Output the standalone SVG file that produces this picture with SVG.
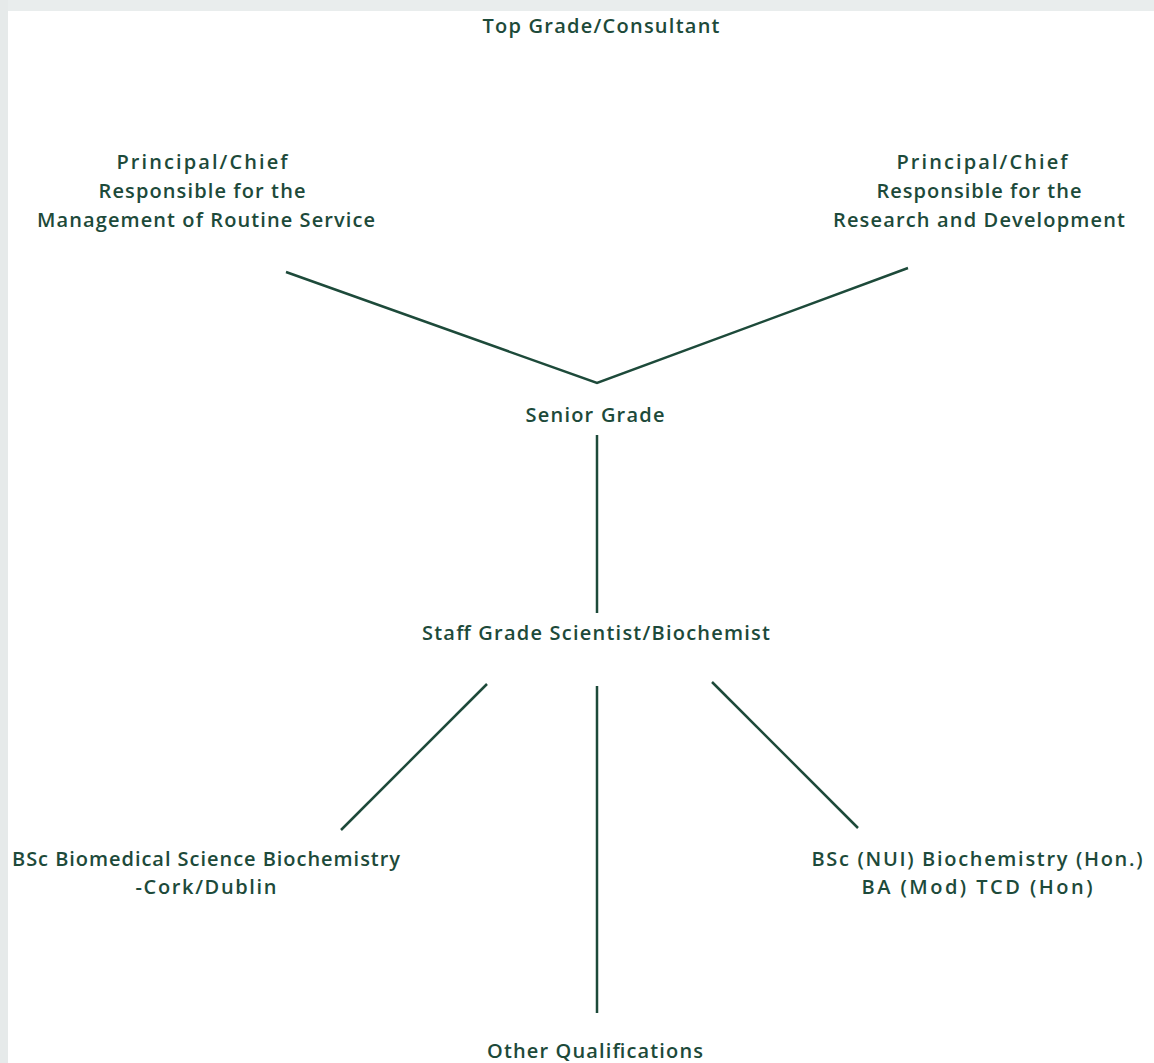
<svg xmlns="http://www.w3.org/2000/svg" width="1154" height="1063" viewBox="0 0 1154 1063">
<style>
.t{font-family:"Open Sans","Noto Sans","Liberation Sans",sans-serif;font-size:20px;font-weight:600;fill:#1d4a3a;text-anchor:middle}
.c{stroke:#1d4a3a;stroke-width:2.5;fill:none;stroke-linecap:butt}
</style>
<rect width="1154" height="1063" fill="#ffffff"/>
<rect x="0" y="0" width="1154" height="11" fill="#e9eded"/>
<rect x="0" y="0" width="8" height="1063" fill="#e6eaea"/>
<g id="connectors">
<polyline class="c" points="286,272 597,383 908,268"/>
<line class="c" x1="597" y1="435" x2="597" y2="613"/>
<line class="c" x1="487" y1="684" x2="341" y2="830"/>
<line class="c" x1="597" y1="686" x2="597" y2="1013"/>
<line class="c" x1="712" y1="682" x2="858" y2="828"/>
</g>
<g id="top"><text class="t" x="601" y="33" textLength="237">Top Grade/Consultant</text></g>
<g id="principal-routine">
<text class="t" x="202" y="169" textLength="171">Principal/Chief</text>
<text class="t" x="202" y="198" textLength="207">Responsible for the</text>
<text class="t" x="206" y="227" textLength="338">Management of Routine Service</text>
</g>
<g id="principal-research">
<text class="t" x="982" y="169" textLength="171">Principal/Chief</text>
<text class="t" x="979" y="198" textLength="205">Responsible for the</text>
<text class="t" x="979" y="227" textLength="292">Research and Development</text>
</g>
<g id="senior"><text class="t" x="595" y="422" textLength="139">Senior Grade</text></g>
<g id="staff"><text class="t" x="596" y="640" textLength="348">Staff Grade Scientist/Biochemist</text></g>
<g id="bsc-biomedical">
<text class="t" x="206" y="866" textLength="388">BSc Biomedical Science Biochemistry</text>
<text class="t" x="206" y="894" textLength="141">-Cork/Dublin</text>
</g>
<g id="bsc-nui">
<text class="t" x="977" y="866" textLength="331">BSc (NUI) Biochemistry (Hon.)</text>
<text class="t" x="977" y="894" textLength="231">BA (Mod) TCD (Hon)</text>
</g>
<g id="other"><text class="t" x="595" y="1058" textLength="216">Other Qualifications</text></g>
</svg>
